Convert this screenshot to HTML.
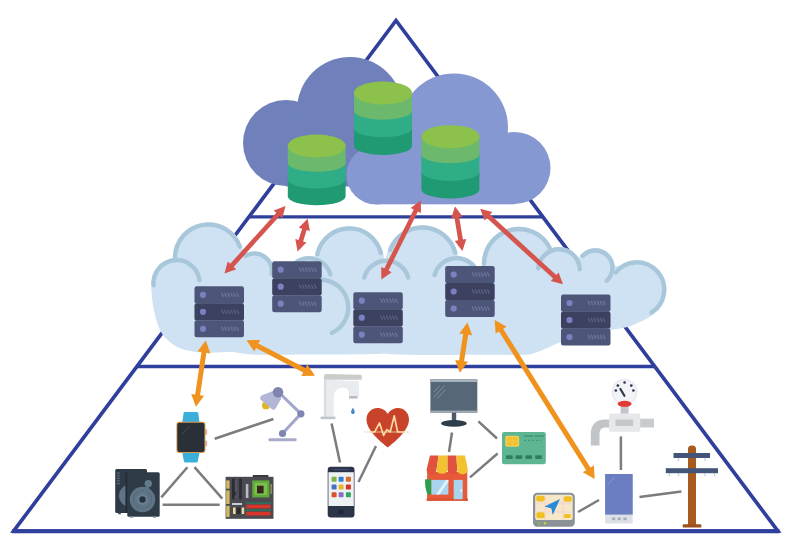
<!DOCTYPE html>
<html><head><meta charset="utf-8"><title>IoT pyramid</title>
<style>html,body{margin:0;padding:0;background:#fff;font-family:"Liberation Sans",sans-serif}svg{display:block;filter:blur(0.55px)}</style></head>
<body>
<svg width="800" height="550" viewBox="0 0 800 550">
<rect width="800" height="550" fill="#ffffff"/>
<polygon points="396.0,20.5 13.7,531.0 777.8,531.0" fill="none" stroke="#2f3f9c" stroke-width="3.7" stroke-linejoin="miter"/>
<line x1="12" y1="531.2" x2="779.5" y2="531.2" stroke="#2f3f9c" stroke-width="3.9"/>
<line x1="249.0" y1="216.8" x2="542.8" y2="216.8" stroke="#2f3f9c" stroke-width="3.3"/>
<line x1="136.9" y1="366.5" x2="654.8" y2="366.5" stroke="#2f3f9c" stroke-width="3.3"/>
<g fill="#cee2f3">
<circle cx="176.6" cy="283.4" r="25.3"/>
<circle cx="208.4" cy="258.0" r="35.6"/>
<circle cx="254.4" cy="271.0" r="19.7"/>
<circle cx="349.3" cy="261.0" r="34.8"/>
<circle cx="422.3" cy="261.5" r="36.3"/>
<circle cx="518.8" cy="263.8" r="37.0"/>
<circle cx="559.0" cy="270.0" r="23.0"/>
<circle cx="595.5" cy="267.5" r="19.5"/>
<circle cx="637.0" cy="289.5" r="29.5"/>
<circle cx="309.0" cy="280.5" r="24.5"/>
<circle cx="386.2" cy="283.5" r="25.0"/>
<circle cx="456.5" cy="281.0" r="25.0"/>
<path d="M151.1,282 C151.3,296 153,313 159.6,329 C163,337 170,343.5 179.3,348 C186,351 198,352.8 208.7,352.8 C218,352.8 226,352 232,351.8 C240,353.5 250,355 262,354.8 C280,354.6 295,354.8 310,354.6 C340,354.2 365,355 385,353.6 C400,355.6 440,355 480,354.8 C505,354.8 520,355.2 530,354.4 C542,351.5 550,346 561,342 C580,336 598,333 611,330 C622,328 630,327 635,324 C645,320 651,317 655,312 C662,305 666.5,297 666.5,289 L660,282 Z"/>
<rect x="562" y="266" width="62" height="20"/>
<rect x="170" y="272" width="485" height="20"/>
</g>
<path d="M153.6,285.4 A23.1,23.1 0 0 1 199.5,280.2" fill="none" stroke="#a9c7da" stroke-width="4.4" stroke-linecap="round"/>
<path d="M175.0,256.8 A33.4,33.4 0 0 1 239.8,246.6" fill="none" stroke="#a9c7da" stroke-width="4.4" stroke-linecap="round"/>
<path d="M245.7,255.8 A17.5,17.5 0 0 1 271.6,274.0" fill="none" stroke="#a9c7da" stroke-width="4.4" stroke-linecap="round"/>
<path d="M317.4,254.2 A32.6,32.6 0 0 1 380.9,253.1" fill="none" stroke="#a9c7da" stroke-width="4.4" stroke-linecap="round"/>
<path d="M390.3,249.8 A34.1,34.1 0 0 1 455.2,252.7" fill="none" stroke="#a9c7da" stroke-width="4.4" stroke-linecap="round"/>
<path d="M484.0,263.8 A34.8,34.8 0 0 1 549.5,247.5" fill="none" stroke="#a9c7da" stroke-width="4.4" stroke-linecap="round"/>
<path d="M538.3,268.2 A20.8,20.8 0 0 1 579.8,269.3" fill="none" stroke="#a9c7da" stroke-width="4.4" stroke-linecap="round"/>
<path d="M582.6,255.9 A17.3,17.3 0 1 1 606.8,280.6" fill="none" stroke="#a9c7da" stroke-width="4.4" stroke-linecap="round"/>
<path d="M615.8,272.3 A27.3,27.3 0 1 1 651.5,312.7" fill="none" stroke="#a9c7da" stroke-width="4.4" stroke-linecap="round"/>
<path d="M297.9,261.2 A22.3,22.3 0 0 1 330.5,274.7" fill="none" stroke="#a9c7da" stroke-width="4.4" stroke-linecap="round"/>
<path d="M364.2,277.6 A22.8,22.8 0 0 1 408.2,277.6" fill="none" stroke="#a9c7da" stroke-width="4.4" stroke-linecap="round"/>
<path d="M434.5,275.1 A22.8,22.8 0 0 1 474.0,266.3" fill="none" stroke="#a9c7da" stroke-width="4.4" stroke-linecap="round"/>
<path d="M322.4,279.8 A27.8,27.8 0 0 1 331.8,332.9" fill="none" stroke="#a9c7da" stroke-width="4.4" stroke-linecap="round"/>
<g fill="#6f80bb">
<circle cx="286" cy="143" r="43"/><circle cx="350" cy="110" r="53"/>
<rect x="286" y="120" width="110" height="66.5"/>
</g>
<g fill="#8698d1">
<circle cx="376" cy="175" r="29.5"/><circle cx="454" cy="127.5" r="54"/><circle cx="514.5" cy="168" r="36"/>
<rect x="376" y="150" width="138.5" height="54.3"/>
</g>
<path fill="#1f9a73" d="M287.8,179.0 L287.8,196.3 A28.9,9.0 0 0 0 345.6,196.3 L345.6,179.0 Z"/>
<path fill="#2fad86" d="M287.8,162.3 L287.8,179.5 A28.9,9.0 0 0 0 345.6,179.5 L345.6,162.3 Z"/>
<path fill="#6cb86c" d="M287.8,145.5 L287.8,162.8 A28.9,9.0 0 0 0 345.6,162.8 L345.6,145.5 Z"/>
<ellipse fill="#8cc24b" cx="316.7" cy="146.0" rx="28.9" ry="11.5"/>
<path fill="#1f9a73" d="M354.0,127.8 L354.0,146.0 A29.0,9.0 0 0 0 412.0,146.0 L412.0,127.8 Z"/>
<path fill="#2fad86" d="M354.0,110.2 L354.0,128.3 A29.0,9.0 0 0 0 412.0,128.3 L412.0,110.2 Z"/>
<path fill="#6cb86c" d="M354.0,92.5 L354.0,110.7 A29.0,9.0 0 0 0 412.0,110.7 L412.0,92.5 Z"/>
<ellipse fill="#8cc24b" cx="383.0" cy="93.0" rx="29.0" ry="11.5"/>
<path fill="#1f9a73" d="M421.4,171.4 L421.4,189.5 A29.0,9.0 0 0 0 479.4,189.5 L479.4,171.4 Z"/>
<path fill="#2fad86" d="M421.4,153.8 L421.4,171.9 A29.0,9.0 0 0 0 479.4,171.9 L479.4,153.8 Z"/>
<path fill="#6cb86c" d="M421.4,136.2 L421.4,154.3 A29.0,9.0 0 0 0 479.4,154.3 L479.4,136.2 Z"/>
<ellipse fill="#8cc24b" cx="450.4" cy="136.7" rx="29.0" ry="11.5"/>
<rect x="194.5" y="286.3" width="49.5" height="17.3" rx="2.2" fill="#4d5679"/>
<circle cx="203.0" cy="294.8" r="3.1" fill="#7a80c0"/>
<path d="M221.5,292.7 l2.2,4.2" stroke="#6c7599" stroke-width="1.3" fill="none"/>
<path d="M224.5,292.7 l2.2,4.2" stroke="#6c7599" stroke-width="1.3" fill="none"/>
<path d="M227.5,292.7 l2.2,4.2" stroke="#6c7599" stroke-width="1.3" fill="none"/>
<path d="M230.5,292.7 l2.2,4.2" stroke="#6c7599" stroke-width="1.3" fill="none"/>
<path d="M233.5,292.7 l2.2,4.2" stroke="#6c7599" stroke-width="1.3" fill="none"/>
<path d="M236.5,292.7 l2.2,4.2" stroke="#6c7599" stroke-width="1.3" fill="none"/>
<rect x="194.5" y="303.3" width="49.5" height="17.3" rx="2.2" fill="#3b415f"/>
<circle cx="203.0" cy="311.8" r="3.1" fill="#7a80c0"/>
<path d="M221.5,309.7 l2.2,4.2" stroke="#596084" stroke-width="1.3" fill="none"/>
<path d="M224.5,309.7 l2.2,4.2" stroke="#596084" stroke-width="1.3" fill="none"/>
<path d="M227.5,309.7 l2.2,4.2" stroke="#596084" stroke-width="1.3" fill="none"/>
<path d="M230.5,309.7 l2.2,4.2" stroke="#596084" stroke-width="1.3" fill="none"/>
<path d="M233.5,309.7 l2.2,4.2" stroke="#596084" stroke-width="1.3" fill="none"/>
<path d="M236.5,309.7 l2.2,4.2" stroke="#596084" stroke-width="1.3" fill="none"/>
<rect x="194.5" y="320.3" width="49.5" height="17.0" rx="2.2" fill="#4d5679"/>
<circle cx="203.0" cy="328.8" r="3.1" fill="#7a80c0"/>
<path d="M221.5,326.7 l2.2,4.2" stroke="#6c7599" stroke-width="1.3" fill="none"/>
<path d="M224.5,326.7 l2.2,4.2" stroke="#6c7599" stroke-width="1.3" fill="none"/>
<path d="M227.5,326.7 l2.2,4.2" stroke="#6c7599" stroke-width="1.3" fill="none"/>
<path d="M230.5,326.7 l2.2,4.2" stroke="#6c7599" stroke-width="1.3" fill="none"/>
<path d="M233.5,326.7 l2.2,4.2" stroke="#6c7599" stroke-width="1.3" fill="none"/>
<path d="M236.5,326.7 l2.2,4.2" stroke="#6c7599" stroke-width="1.3" fill="none"/>
<rect x="272.2" y="261.2" width="49.5" height="17.3" rx="2.2" fill="#4d5679"/>
<circle cx="280.7" cy="269.7" r="3.1" fill="#7a80c0"/>
<path d="M299.2,267.6 l2.2,4.2" stroke="#6c7599" stroke-width="1.3" fill="none"/>
<path d="M302.2,267.6 l2.2,4.2" stroke="#6c7599" stroke-width="1.3" fill="none"/>
<path d="M305.2,267.6 l2.2,4.2" stroke="#6c7599" stroke-width="1.3" fill="none"/>
<path d="M308.2,267.6 l2.2,4.2" stroke="#6c7599" stroke-width="1.3" fill="none"/>
<path d="M311.2,267.6 l2.2,4.2" stroke="#6c7599" stroke-width="1.3" fill="none"/>
<path d="M314.2,267.6 l2.2,4.2" stroke="#6c7599" stroke-width="1.3" fill="none"/>
<rect x="272.2" y="278.2" width="49.5" height="17.3" rx="2.2" fill="#3b415f"/>
<circle cx="280.7" cy="286.7" r="3.1" fill="#7a80c0"/>
<path d="M299.2,284.6 l2.2,4.2" stroke="#596084" stroke-width="1.3" fill="none"/>
<path d="M302.2,284.6 l2.2,4.2" stroke="#596084" stroke-width="1.3" fill="none"/>
<path d="M305.2,284.6 l2.2,4.2" stroke="#596084" stroke-width="1.3" fill="none"/>
<path d="M308.2,284.6 l2.2,4.2" stroke="#596084" stroke-width="1.3" fill="none"/>
<path d="M311.2,284.6 l2.2,4.2" stroke="#596084" stroke-width="1.3" fill="none"/>
<path d="M314.2,284.6 l2.2,4.2" stroke="#596084" stroke-width="1.3" fill="none"/>
<rect x="272.2" y="295.2" width="49.5" height="17.0" rx="2.2" fill="#4d5679"/>
<circle cx="280.7" cy="303.7" r="3.1" fill="#7a80c0"/>
<path d="M299.2,301.6 l2.2,4.2" stroke="#6c7599" stroke-width="1.3" fill="none"/>
<path d="M302.2,301.6 l2.2,4.2" stroke="#6c7599" stroke-width="1.3" fill="none"/>
<path d="M305.2,301.6 l2.2,4.2" stroke="#6c7599" stroke-width="1.3" fill="none"/>
<path d="M308.2,301.6 l2.2,4.2" stroke="#6c7599" stroke-width="1.3" fill="none"/>
<path d="M311.2,301.6 l2.2,4.2" stroke="#6c7599" stroke-width="1.3" fill="none"/>
<path d="M314.2,301.6 l2.2,4.2" stroke="#6c7599" stroke-width="1.3" fill="none"/>
<rect x="353.3" y="292.2" width="49.5" height="17.3" rx="2.2" fill="#4d5679"/>
<circle cx="361.8" cy="300.7" r="3.1" fill="#7a80c0"/>
<path d="M380.3,298.6 l2.2,4.2" stroke="#6c7599" stroke-width="1.3" fill="none"/>
<path d="M383.3,298.6 l2.2,4.2" stroke="#6c7599" stroke-width="1.3" fill="none"/>
<path d="M386.3,298.6 l2.2,4.2" stroke="#6c7599" stroke-width="1.3" fill="none"/>
<path d="M389.3,298.6 l2.2,4.2" stroke="#6c7599" stroke-width="1.3" fill="none"/>
<path d="M392.3,298.6 l2.2,4.2" stroke="#6c7599" stroke-width="1.3" fill="none"/>
<path d="M395.3,298.6 l2.2,4.2" stroke="#6c7599" stroke-width="1.3" fill="none"/>
<rect x="353.3" y="309.2" width="49.5" height="17.3" rx="2.2" fill="#3b415f"/>
<circle cx="361.8" cy="317.7" r="3.1" fill="#7a80c0"/>
<path d="M380.3,315.6 l2.2,4.2" stroke="#596084" stroke-width="1.3" fill="none"/>
<path d="M383.3,315.6 l2.2,4.2" stroke="#596084" stroke-width="1.3" fill="none"/>
<path d="M386.3,315.6 l2.2,4.2" stroke="#596084" stroke-width="1.3" fill="none"/>
<path d="M389.3,315.6 l2.2,4.2" stroke="#596084" stroke-width="1.3" fill="none"/>
<path d="M392.3,315.6 l2.2,4.2" stroke="#596084" stroke-width="1.3" fill="none"/>
<path d="M395.3,315.6 l2.2,4.2" stroke="#596084" stroke-width="1.3" fill="none"/>
<rect x="353.3" y="326.2" width="49.5" height="17.0" rx="2.2" fill="#4d5679"/>
<circle cx="361.8" cy="334.7" r="3.1" fill="#7a80c0"/>
<path d="M380.3,332.6 l2.2,4.2" stroke="#6c7599" stroke-width="1.3" fill="none"/>
<path d="M383.3,332.6 l2.2,4.2" stroke="#6c7599" stroke-width="1.3" fill="none"/>
<path d="M386.3,332.6 l2.2,4.2" stroke="#6c7599" stroke-width="1.3" fill="none"/>
<path d="M389.3,332.6 l2.2,4.2" stroke="#6c7599" stroke-width="1.3" fill="none"/>
<path d="M392.3,332.6 l2.2,4.2" stroke="#6c7599" stroke-width="1.3" fill="none"/>
<path d="M395.3,332.6 l2.2,4.2" stroke="#6c7599" stroke-width="1.3" fill="none"/>
<rect x="445.2" y="266.0" width="49.5" height="17.3" rx="2.2" fill="#4d5679"/>
<circle cx="453.7" cy="274.5" r="3.1" fill="#7a80c0"/>
<path d="M472.2,272.4 l2.2,4.2" stroke="#6c7599" stroke-width="1.3" fill="none"/>
<path d="M475.2,272.4 l2.2,4.2" stroke="#6c7599" stroke-width="1.3" fill="none"/>
<path d="M478.2,272.4 l2.2,4.2" stroke="#6c7599" stroke-width="1.3" fill="none"/>
<path d="M481.2,272.4 l2.2,4.2" stroke="#6c7599" stroke-width="1.3" fill="none"/>
<path d="M484.2,272.4 l2.2,4.2" stroke="#6c7599" stroke-width="1.3" fill="none"/>
<path d="M487.2,272.4 l2.2,4.2" stroke="#6c7599" stroke-width="1.3" fill="none"/>
<rect x="445.2" y="283.0" width="49.5" height="17.3" rx="2.2" fill="#3b415f"/>
<circle cx="453.7" cy="291.5" r="3.1" fill="#7a80c0"/>
<path d="M472.2,289.4 l2.2,4.2" stroke="#596084" stroke-width="1.3" fill="none"/>
<path d="M475.2,289.4 l2.2,4.2" stroke="#596084" stroke-width="1.3" fill="none"/>
<path d="M478.2,289.4 l2.2,4.2" stroke="#596084" stroke-width="1.3" fill="none"/>
<path d="M481.2,289.4 l2.2,4.2" stroke="#596084" stroke-width="1.3" fill="none"/>
<path d="M484.2,289.4 l2.2,4.2" stroke="#596084" stroke-width="1.3" fill="none"/>
<path d="M487.2,289.4 l2.2,4.2" stroke="#596084" stroke-width="1.3" fill="none"/>
<rect x="445.2" y="300.0" width="49.5" height="17.0" rx="2.2" fill="#4d5679"/>
<circle cx="453.7" cy="308.5" r="3.1" fill="#7a80c0"/>
<path d="M472.2,306.4 l2.2,4.2" stroke="#6c7599" stroke-width="1.3" fill="none"/>
<path d="M475.2,306.4 l2.2,4.2" stroke="#6c7599" stroke-width="1.3" fill="none"/>
<path d="M478.2,306.4 l2.2,4.2" stroke="#6c7599" stroke-width="1.3" fill="none"/>
<path d="M481.2,306.4 l2.2,4.2" stroke="#6c7599" stroke-width="1.3" fill="none"/>
<path d="M484.2,306.4 l2.2,4.2" stroke="#6c7599" stroke-width="1.3" fill="none"/>
<path d="M487.2,306.4 l2.2,4.2" stroke="#6c7599" stroke-width="1.3" fill="none"/>
<rect x="561.0" y="294.5" width="49.5" height="17.3" rx="2.2" fill="#4d5679"/>
<circle cx="569.5" cy="303.0" r="3.1" fill="#7a80c0"/>
<path d="M588.0,300.9 l2.2,4.2" stroke="#6c7599" stroke-width="1.3" fill="none"/>
<path d="M591.0,300.9 l2.2,4.2" stroke="#6c7599" stroke-width="1.3" fill="none"/>
<path d="M594.0,300.9 l2.2,4.2" stroke="#6c7599" stroke-width="1.3" fill="none"/>
<path d="M597.0,300.9 l2.2,4.2" stroke="#6c7599" stroke-width="1.3" fill="none"/>
<path d="M600.0,300.9 l2.2,4.2" stroke="#6c7599" stroke-width="1.3" fill="none"/>
<path d="M603.0,300.9 l2.2,4.2" stroke="#6c7599" stroke-width="1.3" fill="none"/>
<rect x="561.0" y="311.5" width="49.5" height="17.3" rx="2.2" fill="#3b415f"/>
<circle cx="569.5" cy="320.0" r="3.1" fill="#7a80c0"/>
<path d="M588.0,317.9 l2.2,4.2" stroke="#596084" stroke-width="1.3" fill="none"/>
<path d="M591.0,317.9 l2.2,4.2" stroke="#596084" stroke-width="1.3" fill="none"/>
<path d="M594.0,317.9 l2.2,4.2" stroke="#596084" stroke-width="1.3" fill="none"/>
<path d="M597.0,317.9 l2.2,4.2" stroke="#596084" stroke-width="1.3" fill="none"/>
<path d="M600.0,317.9 l2.2,4.2" stroke="#596084" stroke-width="1.3" fill="none"/>
<path d="M603.0,317.9 l2.2,4.2" stroke="#596084" stroke-width="1.3" fill="none"/>
<rect x="561.0" y="328.5" width="49.5" height="17.0" rx="2.2" fill="#4d5679"/>
<circle cx="569.5" cy="337.0" r="3.1" fill="#7a80c0"/>
<path d="M588.0,334.9 l2.2,4.2" stroke="#6c7599" stroke-width="1.3" fill="none"/>
<path d="M591.0,334.9 l2.2,4.2" stroke="#6c7599" stroke-width="1.3" fill="none"/>
<path d="M594.0,334.9 l2.2,4.2" stroke="#6c7599" stroke-width="1.3" fill="none"/>
<path d="M597.0,334.9 l2.2,4.2" stroke="#6c7599" stroke-width="1.3" fill="none"/>
<path d="M600.0,334.9 l2.2,4.2" stroke="#6c7599" stroke-width="1.3" fill="none"/>
<path d="M603.0,334.9 l2.2,4.2" stroke="#6c7599" stroke-width="1.3" fill="none"/>
<polygon fill="#d6544e" points="285.5,206.0 273.7,210.4 276.3,212.7 230.3,263.7 227.7,261.4 224.5,273.6 236.3,269.2 233.7,266.9 279.7,215.9 282.3,218.2"/>
<polygon fill="#d6544e" points="307.6,218.7 298.8,227.7 302.1,228.7 298.6,240.1 295.3,239.1 297.6,251.5 306.4,242.5 303.1,241.5 306.6,230.1 309.9,231.1"/>
<polygon fill="#d6544e" points="420.8,200.5 410.6,207.9 413.7,209.5 384.3,268.5 381.2,267.0 381.4,279.6 391.6,272.2 388.5,270.6 417.9,211.6 421.0,213.1"/>
<polygon fill="#d6544e" points="455.0,206.5 451.1,218.5 454.5,217.9 458.2,240.3 454.8,240.9 462.4,251.0 466.3,239.0 462.9,239.6 459.2,217.2 462.6,216.6"/>
<polygon fill="#d6544e" points="480.2,208.8 484.6,220.6 486.9,218.1 553.1,278.5 550.8,281.0 563.0,284.3 558.6,272.5 556.3,275.0 490.1,214.6 492.4,212.1"/>
<polygon fill="#f0921e" points="205.7,340.6 197.5,351.5 201.5,352.1 195.2,394.5 191.2,393.9 195.9,406.7 204.1,395.8 200.1,395.2 206.4,352.8 210.4,353.4"/>
<polygon fill="#f0921e" points="246.5,340.2 254.2,351.5 256.0,347.9 303.2,372.4 301.4,375.9 315.0,375.7 307.3,364.4 305.5,368.0 258.3,343.5 260.1,340.0"/>
<polygon fill="#f0921e" points="467.5,322.5 459.3,333.4 463.2,334.0 459.1,360.5 455.2,359.9 459.8,372.7 468.0,361.8 464.1,361.2 468.2,334.7 472.1,335.3"/>
<polygon fill="#f0921e" points="494.7,320.0 495.6,333.6 499.0,331.5 586.2,470.2 582.8,472.3 594.7,479.0 593.8,465.4 590.4,467.5 503.2,328.8 506.6,326.7"/>
<line x1="214.7" y1="438.7" x2="273.4" y2="419.0" stroke="#7c7c7c" stroke-width="2.5"/>
<line x1="187.4" y1="467.2" x2="161.3" y2="497.4" stroke="#7c7c7c" stroke-width="2.5"/>
<line x1="194.5" y1="467.2" x2="222.3" y2="498.6" stroke="#7c7c7c" stroke-width="2.5"/>
<line x1="162.6" y1="504.7" x2="219.7" y2="504.7" stroke="#7c7c7c" stroke-width="2.5"/>
<line x1="331.6" y1="423.5" x2="340.0" y2="462.5" stroke="#7c7c7c" stroke-width="2.5"/>
<line x1="376.0" y1="446.0" x2="358.5" y2="482.0" stroke="#7c7c7c" stroke-width="2.5"/>
<line x1="452.0" y1="432.5" x2="449.0" y2="452.0" stroke="#7c7c7c" stroke-width="2.5"/>
<line x1="478.4" y1="421.4" x2="497.0" y2="438.5" stroke="#7c7c7c" stroke-width="2.5"/>
<line x1="470.0" y1="477.4" x2="497.6" y2="453.5" stroke="#7c7c7c" stroke-width="2.5"/>
<line x1="620.9" y1="436.4" x2="620.9" y2="470.0" stroke="#7c7c7c" stroke-width="2.5"/>
<line x1="639.5" y1="497.0" x2="681.4" y2="491.5" stroke="#7c7c7c" stroke-width="2.5"/>
<line x1="578.0" y1="512.0" x2="599.0" y2="500.0" stroke="#7c7c7c" stroke-width="2.5"/>
<g>
<path d="M183.6,412.8 Q183.8,412 185,412 L196.8,412 Q198,412 198.2,412.8 L199.6,423 L182.2,423 Z" fill="#3bafda"/>
<path d="M182.2,452 L199.6,452 L197.8,461.6 Q197.6,462.6 196.4,462.6 L185.4,462.6 Q184.2,462.6 184,461.6 Z" fill="#3bafda"/>
<rect x="205" y="429.3" width="2.2" height="5.8" rx="0.8" fill="#e6b3a0"/>
<rect x="205" y="440.6" width="2.2" height="5.8" rx="0.8" fill="#e6b3a0"/>
<rect x="176.4" y="421.8" width="29" height="31.2" rx="3" fill="#dd9a4c"/>
<rect x="177.3" y="422.7" width="27.2" height="29.4" rx="2.4" fill="#2a3038"/>
<path d="M182,434 L190,426" stroke="#3d4650" stroke-width="1"/>
</g>
<g>
<rect x="115.2" y="469" width="31.8" height="44" rx="1.5" fill="#2e3b46"/>
<rect x="118" y="513" width="3" height="1.3" fill="#55606a"/>
<rect x="116.8" y="472.5" width="3" height="1.3" fill="#5a6a78"/>
<rect x="116.8" y="475.1" width="3" height="1.3" fill="#5a6a78"/>
<rect x="116.8" y="477.7" width="3" height="1.3" fill="#5a6a78"/>
<rect x="116.8" y="480.3" width="3" height="1.3" fill="#5a6a78"/>
<rect x="116.8" y="482.9" width="3" height="1.3" fill="#5a6a78"/>
<circle cx="130" cy="495.7" r="11" fill="#5f7587"/>
<rect x="125.4" y="472.6" width="3" height="40.4" fill="#232d36"/>
<rect x="127.3" y="472.2" width="32.4" height="44.5" rx="1.5" fill="#2f3c47"/>
<rect x="130" y="516.5" width="3" height="1.3" fill="#8a9299"/><rect x="153" y="516.5" width="3" height="1.3" fill="#8a9299"/>
<circle cx="142.5" cy="499.5" r="12.7" fill="#5f7587"/>
<circle cx="142.5" cy="499.5" r="9" fill="none" stroke="#556b7c" stroke-width="1.2"/>
<path d="M148.3,483.6 L144,497" stroke="#5f7587" stroke-width="3.2" stroke-linecap="round"/>
<circle cx="148.3" cy="483.6" r="3.7" fill="#637a8c"/>
<circle cx="142.5" cy="499.5" r="5.2" fill="#6c8294"/>
<circle cx="142.5" cy="499.5" r="3.2" fill="#27333d"/>
</g>
<g>
<rect x="252.8" y="475" width="15.6" height="3" fill="#38383f"/>
<rect x="225.6" y="476.8" width="47.9" height="42" fill="#4a4a50"/>
<rect x="226.2" y="480.4" width="3.4" height="8.3" fill="#d4b95e"/>
<rect x="226.2" y="490.4" width="3.4" height="13.6" fill="#d4b95e"/>
<rect x="226.2" y="505.8" width="3.4" height="11.2" fill="#d4b95e"/>
<rect x="232" y="478.6" width="2.6" height="20.7" fill="#2b2b36"/>
<rect x="239.2" y="478.6" width="2.6" height="20.7" fill="#2b2b36"/>
<rect x="235.4" y="480" width="1.2" height="18" fill="#5a5a78"/>
<rect x="245.8" y="484" width="2.6" height="14" fill="#b9bcc4"/>
<rect x="252.2" y="480.4" width="17.2" height="17.1" fill="#5fa83a"/>
<rect x="254.6" y="482.8" width="12.4" height="12.3" fill="#7cbf4c"/>
<rect x="257" y="485.7" width="6.6" height="7.7" fill="#35261e"/>
<rect x="270.4" y="484" width="1.6" height="10" fill="#8a8f5a"/>
<rect x="245.6" y="502.2" width="25.6" height="1.8" fill="#2f6f5a"/>
<rect x="246.3" y="504.6" width="24.3" height="3.8" fill="#d8352a"/>
<rect x="245.6" y="509.3" width="25.6" height="1.8" fill="#2f6f5a"/>
<rect x="246.3" y="511.7" width="24.3" height="3.8" fill="#d8352a"/>
<rect x="232" y="503" width="10" height="2" fill="#c9ccd2"/>
<rect x="233" y="507.5" width="2.6" height="6.5" fill="#e8d9a0"/>
<rect x="236.6" y="507.5" width="4" height="6.5" fill="#2a2a30"/>
<rect x="241.6" y="507.5" width="2.6" height="6.5" fill="#e8d9a0"/>
<rect x="232.5" y="492" width="3.4" height="3.4" fill="#2a2a30"/>
</g>
<g>
<circle cx="265.9" cy="405.4" r="3.9" fill="#e0b61f"/>
<path d="M280.5,394 L300.9,413.8 L282.5,433.5" fill="none" stroke="#a3a6ca" stroke-width="3.1" stroke-linejoin="round"/>
<path d="M273,391 L262,395.2 Q259.6,396.6 260.4,399.4 L272.4,409.6 Q274.6,410.4 276.2,407.6 L281.6,398 Z" fill="#b3b6d5"/>
<circle cx="278" cy="392.2" r="5.3" fill="#8084b0"/>
<circle cx="300.9" cy="413.8" r="3.6" fill="#8084b0"/>
<circle cx="282.5" cy="433.5" r="3.6" fill="#8084b0"/>
<rect x="268.5" y="438.3" width="28" height="2.9" rx="1" fill="#a8aaca"/>
</g>
<g>
<path d="M323.9,380 L333.7,380 L359,381.2 L359,396.2 L349,396.2 L349,392 Q348,387.6 342,387.8 Q334.2,388.4 333.7,397 L333.7,416.8 L323.9,416.8 Z" fill="#e9ecef"/>
<rect x="323.9" y="380" width="2.4" height="36.8" fill="#d9dde2"/>
<path d="M326.4,374 L360.6,374.8 Q361.8,375 361.8,376.4 L361.8,379.8 L323.9,379.8 L323.9,376.4 Q324,374 326.4,374 Z" fill="#c9ccca"/>
<rect x="349" y="396" width="8.6" height="2.6" fill="#b9bdc1"/>
<rect x="320.6" y="416.6" width="14.8" height="2.6" fill="#c1c5c9"/>
<path d="M352.9,407.4 Q355,411 354.7,412.4 Q354.5,414 352.9,414 Q351.3,414 351.1,412.4 Q350.8,411 352.9,407.4 Z" fill="#4a86c5"/>
</g>
<g>
<path d="M387.8,447.6 C382,442.5 366.5,431 366.5,419.5 C366.5,412.5 371.8,407.9 377.6,407.9 C382,407.9 385.8,410.3 387.8,414 C389.8,410.3 393.6,407.9 398,407.9 C403.8,407.9 409,412.5 409,419.5 C409,431 393.6,442.5 387.8,447.6 Z" fill="#c9432a"/>
<path d="M364,432 L410,432" stroke="#ecdcae" stroke-width="0.8" fill="none"/>
<path d="M370,432 L374.6,432 L379.5,423 L383.6,435.4 L386.9,429.6 L390.2,432 L394.3,415.8 L397.6,432 L404,432" stroke="#f8d9a0" stroke-width="1.7" fill="none" stroke-linejoin="round" stroke-linecap="round"/>
</g>
<g>
<rect x="327.7" y="466.7" width="26.8" height="50.7" rx="3" fill="#2c3448"/>
<rect x="328.4" y="472.2" width="25.4" height="33.8" fill="#eef1f4"/>
<rect x="338.8" y="509.6" width="4.6" height="4.4" rx="0.8" fill="#1f2638"/>
<rect x="333" y="469" width="16" height="1.2" fill="#3e4a78"/>
<rect x="331.6" y="476.7" width="5" height="5" rx="0.8" fill="#7db548"/>
<rect x="338.6" y="476.7" width="5" height="5" rx="0.8" fill="#2f7fd6"/>
<rect x="345.9" y="476.7" width="5" height="5" rx="0.8" fill="#d96a28"/>
<rect x="331.6" y="484.6" width="5" height="5" rx="0.8" fill="#4a6fbf"/>
<rect x="338.6" y="484.6" width="5" height="5" rx="0.8" fill="#e8b820"/>
<rect x="345.9" y="484.6" width="5" height="5" rx="0.8" fill="#d8322a"/>
<rect x="331.6" y="492.2" width="5" height="5" rx="0.8" fill="#d9502a"/>
<rect x="338.6" y="492.2" width="5" height="5" rx="0.8" fill="#8a6fc4"/>
<rect x="345.9" y="492.2" width="5" height="5" rx="0.8" fill="#2fa865"/>
</g>
<g>
<rect x="451.8" y="412" width="4.4" height="10.5" fill="#4a5a68"/>
<ellipse cx="453.9" cy="423.4" rx="12.8" ry="3.3" fill="#2e3d4a"/>
<rect x="430.4" y="379.2" width="46.9" height="33.4" fill="#566877"/>
<rect x="430.4" y="379.2" width="46.9" height="2.8" fill="#a9b3bc"/>
<rect x="430.4" y="410.6" width="46.9" height="2" fill="#a0abb5"/>
<path d="M433.6,397.5 L444.4,385.5 M434,392 L439.5,386 M437,399 L445.5,389.5" stroke="#8a9aa6" stroke-width="0.8" fill="none"/>
</g>
<g>
<rect x="427.1" y="472" width="40.2" height="28.6" fill="#e8593a"/>
<rect x="426.5" y="498.6" width="41.4" height="2.2" fill="#d9502f"/>
<path d="M430.0,455.6 L438.6,455.6 L436.5,470 A5.0,4.2 0 0 1 426.5,470 Z" fill="#e0523e"/>
<path d="M438.6,455.6 L447.6,455.6 L447.6,470 A5.6,4.2 0 0 1 436.5,470 Z" fill="#f2c230"/>
<path d="M447.6,455.6 L456.4,455.6 L457.2,470 A4.8,4.2 0 0 1 447.6,470 Z" fill="#e0523e"/>
<path d="M456.4,455.6 L465.0,455.6 L467.9,470 A5.3,4.2 0 0 1 457.2,470 Z" fill="#f2c230"/>
<rect x="431.2" y="479.9" width="17.2" height="14.7" fill="#a9d4ee"/>
<path d="M436,494.6 L446,479.9 L448.4,479.9 L448.4,481.5 L439.5,494.6 Z" fill="#e4f2fa"/>
<rect x="453.7" y="479.9" width="9" height="19.4" fill="#a9d4ee"/>
<rect x="460.6" y="489" width="1.4" height="3" fill="#f4f8fb"/>
<path d="M425.2,479.3 L431.2,479.3 L431.2,494.6 L427.6,494.6 Q424.4,487 425.2,479.3 Z" fill="#2e9e4a"/>
</g>
<g>
<rect x="502" y="432" width="43.8" height="32.3" rx="2.2" fill="#5db592"/>
<rect x="505.2" y="435.7" width="14" height="11" rx="2" fill="#ecd265"/>
<rect x="506.6" y="437" width="11.2" height="8.4" rx="1.4" fill="#f5bf27"/>
<path d="M512.2,437 V445.4 M506.6,441.2 H517.8" stroke="#ecd265" stroke-width="0.7"/>
<rect x="524.1" y="435.3" width="9" height="1.5" fill="#3f9675"/><rect x="534.6" y="435.3" width="9.4" height="1.5" fill="#3f9675"/>
<path d="M524.1,440.4 H541" stroke="#3f9675" stroke-width="1.2" stroke-dasharray="2 2"/>
<rect x="506.0" y="455.2" width="6.7" height="3.9" rx="0.8" fill="#2e7f62"/>
<rect x="515.5" y="455.2" width="6.7" height="3.9" rx="0.8" fill="#2e7f62"/>
<rect x="525.3" y="455.2" width="6.7" height="3.9" rx="0.8" fill="#2e7f62"/>
<rect x="535.2" y="455.2" width="6.7" height="3.9" rx="0.8" fill="#2e7f62"/>
</g>
<g>
<rect x="533" y="492.7" width="41.8" height="34.1" rx="4.2" fill="#8a9296"/>
<rect x="535.2" y="494.8" width="37.5" height="25.2" rx="2.6" fill="#f6e7c8"/>
<path d="M545,495 L545,520 M563,495 L563,520 M535.5,503.5 L572.5,503.5 M535.5,512 L572.5,512" stroke="#f3d9cf" stroke-width="1.6"/>
<rect x="536.2" y="495.8" width="8.4" height="5.6" rx="1.8" fill="#f0c020"/>
<rect x="563.8" y="496.2" width="8" height="5.6" rx="1.8" fill="#f0c020"/>
<rect x="536.4" y="512.2" width="8.2" height="6" rx="1.8" fill="#f0c020"/>
<rect x="563.8" y="514" width="7" height="4" rx="1.6" fill="#f0c020"/>
<path d="M560,499.1 L544.5,506.4 L551.4,508.6 L552.7,515 Z" fill="#2a88d8"/>
<circle cx="539.1" cy="523.3" r="1.3" fill="#7cc04a"/><circle cx="545" cy="523.3" r="1.3" fill="#c4d43a"/>
</g>
<g>
<path d="M609.5,419.5 L605,419.5 Q590.8,420 590.8,434 L590.8,445.6 L599.5,445.6 L599.5,434 Q599.6,427.8 605,427.5 L609.5,427.5 Z" fill="#c2c5c7"/>
<rect x="640" y="418.7" width="14" height="8.8" fill="#c9ccce"/>
<rect x="620.6" y="406" width="8" height="8" fill="#c8c2cc"/>
<rect x="609" y="413.6" width="31.2" height="18.2" rx="1.2" fill="#e6e8ea"/>
<rect x="615.5" y="419.5" width="17.6" height="6.5" fill="#c4c8ca"/>
<circle cx="624.6" cy="391.8" r="13" fill="#e9ebf0"/>
<circle cx="624.6" cy="391.8" r="11.4" fill="#f3f4f7"/>
<circle cx="615.8" cy="390.5" r="1.35" fill="#2e3a50"/>
<circle cx="617.9" cy="385.6" r="1.35" fill="#2e3a50"/>
<circle cx="624.6" cy="382.5" r="1.35" fill="#2e3a50"/>
<circle cx="631.3" cy="385.6" r="1.35" fill="#2e3a50"/>
<circle cx="633.4" cy="390.5" r="1.35" fill="#2e3a50"/>
<path d="M620.4,389 L624.4,395.8" stroke="#2e3a50" stroke-width="2.2" stroke-linecap="round"/>
<ellipse cx="624.6" cy="403.8" rx="7" ry="3" fill="#e03a34"/>
</g>
<g>
<rect x="605.1" y="474" width="27.6" height="49.5" rx="1" fill="#dde0e6"/>
<rect x="605.1" y="474" width="27.6" height="40.6" fill="#6b7ec2"/>
<path d="M607.5,485 L615,477" stroke="#8b9bd4" stroke-width="0.9"/>
<rect x="612.0" y="517.6" width="3.2" height="2.6" fill="#a8aeb8"/>
<rect x="617.6" y="517.6" width="3.2" height="2.6" fill="#a8aeb8"/>
<rect x="623.4" y="517.6" width="3.2" height="2.6" fill="#a8aeb8"/>
</g>
<g>
<rect x="688" y="445.4" width="8" height="80" rx="3.6" fill="#a85a1f"/>
<rect x="688" y="500" width="8" height="25.5" fill="#a85a1f"/>
<rect x="682.7" y="524.3" width="18.7" height="3.3" rx="1.2" fill="#9c521c"/>
<rect x="677.8" y="458" width="1.4" height="3.2" fill="#c8d4e4"/>
<rect x="704.3" y="458" width="1.4" height="3.2" fill="#c8d4e4"/>
<rect x="668.8" y="473.2" width="1.4" height="3.2" fill="#c8d4e4"/>
<rect x="677.8" y="473.2" width="1.4" height="3.2" fill="#c8d4e4"/>
<rect x="704.3" y="473.2" width="1.4" height="3.2" fill="#c8d4e4"/>
<rect x="713.8" y="473.2" width="1.4" height="3.2" fill="#c8d4e4"/>
<rect x="673.5" y="453" width="36.5" height="5" fill="#44557a"/>
<rect x="665.8" y="468.2" width="52.2" height="5" fill="#44557a"/>
</g>
</svg>
</body></html>
